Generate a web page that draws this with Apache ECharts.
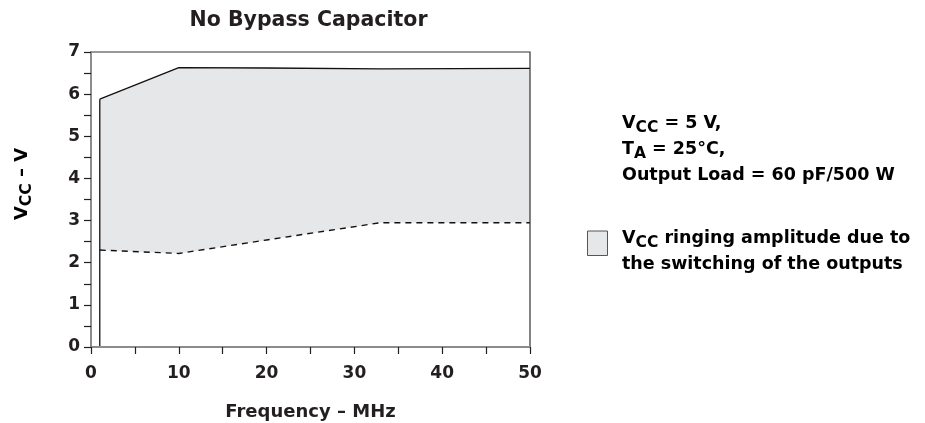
<!DOCTYPE html>
<html>
<head>
<meta charset="utf-8">
<script src="https://cdn.jsdelivr.net/npm/echarts@6.0.0/dist/echarts.min.js"></script>
<style>
  html, body { margin: 0; padding: 0; background: #fff; }
  #chart { width: 925px; height: 423px; }
</style>
</head>
<body>
<div id="chart"></div>
<script>
// values
const freqMHz = [1, 10, 20, 33, 50];
const upperVcc = [5.88, 6.63, 6.62, 6.60, 6.61];   // solid top edge
const lowerVcc = [2.30, 2.22, 2.54, 2.95, 2.95];   // dashed bottom edge
const xTicks = [0, 10, 20, 30, 40, 50];
const yTicks = [0, 1, 2, 3, 4, 5, 6, 7];

const FONT = '"DejaVu Sans", sans-serif';
const INK = '#231f20';
const FILL = '#e6e7e8';

const chart = echarts.init(document.getElementById('chart'));

const rich = (size, sub) => ({
  n: { fontFamily: FONT, fontWeight: 'bold', fontSize: size, color: INK, lineHeight: 26 },
  s: { fontFamily: FONT, fontWeight: 'bold', fontSize: sub, color: INK, padding: [9, 0, 0, 0] }
});

const option = {
  animation: false,
  backgroundColor: '#fff',
  grid: {
    left: 91, right: 395, top: 52, bottom: 76, z: 6,
    outerBoundsMode: 'none', containLabel: false,
    show: true, borderColor: '#333', borderWidth: 1.2, backgroundColor: 'transparent'
  },
  xAxis: {
    type: 'value', min: 0, max: 50, interval: 5, z: 7,
    name: 'Frequency – MHz', nameLocation: 'middle', nameGap: 56,
    nameTextStyle: { fontFamily: FONT, fontWeight: 'bold', fontSize: 18, color: INK },
    axisLine: { lineStyle: { color: '#8c8c8c', width: 2 } },
    axisTick: { length: 7, lineStyle: { color: INK, width: 1.2 } },
    axisLabel: {
      margin: 18, fontFamily: FONT, fontWeight: 'bold', fontSize: 17, color: INK,
      formatter: v => xTicks.includes(v) ? String(v) : ''
    },
    splitLine: { show: false }
  },
  yAxis: {
    type: 'value', min: 0, max: 7, interval: 0.5, z: 7,
    axisLine: { show: true, lineStyle: { color: '#8c8c8c', width: 2 } },
    axisTick: { show: true, length: 7, lineStyle: { color: INK, width: 1.2 } },
    axisLabel: {
      margin: 11, fontFamily: FONT, fontWeight: 'bold', fontSize: 17, color: INK,
      formatter: v => yTicks.includes(v) ? String(v) : ''
    },
    splitLine: { show: false }
  },
  series: [
    {
      // grey ringing band: filled down from the top edge ...
      name: 'upper', type: 'line', symbol: 'none', z: 2,
      data: freqMHz.map((f, i) => [f, upperVcc[i]]),
      areaStyle: { color: FILL, opacity: 1 },
      lineStyle: { color: '#111', width: 1.3 }
    },
    {
      // ... and cut off below the dashed bottom edge
      name: 'lower', type: 'line', symbol: 'none', z: 3,
      data: freqMHz.map((f, i) => [f, lowerVcc[i]]),
      areaStyle: { color: '#fff', opacity: 1 },
      lineStyle: { color: '#111', width: 1.4, type: [6, 5] }
    },
    {
      name: 'edge', type: 'line', symbol: 'none', z: 4,
      data: [[freqMHz[0], 0], [freqMHz[0], upperVcc[0]]],
      lineStyle: { color: '#111', width: 1.3 }
    }
  ],
  graphic: [
    {
      type: 'text', x: 308.5, y: 20.5,
      style: {
        text: 'No Bypass Capacitor', fontFamily: FONT, fontWeight: 'bold', fontSize: 20.5,
        fill: INK, align: 'center', verticalAlign: 'middle'
      }
    },
    {
      type: 'text', x: 22, y: 184, rotation: Math.PI / 2,
      style: {
        text: '{n|V}{s|CC}{n| – V}', rich: rich(18, 15.5),
        align: 'center', verticalAlign: 'middle'
      }
    },
    {
      type: 'text', x: 622, y: 110,
      style: {
        text: '{n|V}{s|CC}{n| = 5 V,}\n{n|T}{s|A}{n| = 25°C,}\n{n|Output Load = 60 pF/500 W}',
        rich: rich(17.5, 15.5), align: 'left', verticalAlign: 'top'
      }
    },
    {
      type: 'rect', shape: { x: 587.5, y: 231, width: 20, height: 24.5 },
      style: { fill: FILL, stroke: '#555', lineWidth: 1 }
    },
    {
      type: 'text', x: 622, y: 225,
      style: {
        text: '{n|V}{s|CC}{n| ringing amplitude due to}\n{n|the switching of the outputs}',
        rich: rich(17.5, 15.5), align: 'left', verticalAlign: 'top'
      }
    }
  ]
};

chart.setOption(option);
</script>
</body>
</html>
